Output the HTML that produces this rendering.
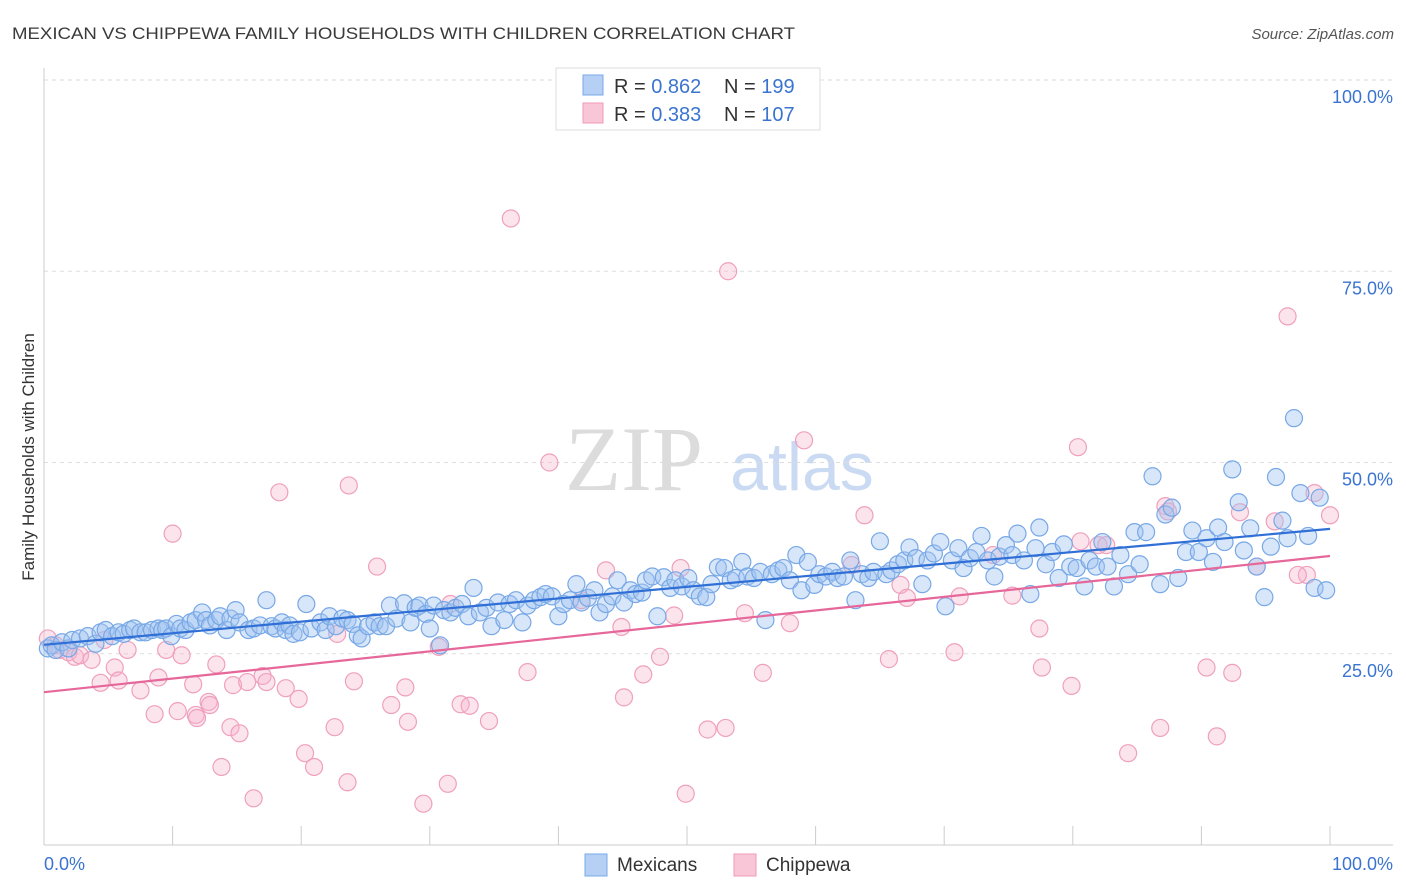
<!DOCTYPE html>
<html><head><meta charset="utf-8"><style>
body{margin:0;background:#fff;font-family:"Liberation Sans",sans-serif;}
svg{display:block}
</style></head><body>
<svg id="chart" width="1406" height="892" xmlns="http://www.w3.org/2000/svg">
<text x="12" y="39" font-size="17" textLength="783" lengthAdjust="spacingAndGlyphs" fill="#3a3a3a">MEXICAN VS CHIPPEWA FAMILY HOUSEHOLDS WITH CHILDREN CORRELATION CHART</text>
<text x="1394" y="39" font-size="15" fill="#555" font-style="italic" text-anchor="end">Source: ZipAtlas.com</text>
<g>
<text x="634" y="490" font-size="92" fill="#dcdcdc" font-family="Liberation Serif,serif" text-anchor="middle">ZIP</text>
<text x="802" y="490" font-size="68" fill="#c9daf2" text-anchor="middle">atlas</text>
</g>
<g id="grid"></g>
<g id="pts"></g>
<g id="lines"></g>
<text transform="translate(34,457) rotate(-90)" font-size="17" fill="#333" text-anchor="middle">Family Households with Children</text>
<g>
<rect x="556" y="68" width="264" height="62" fill="#fff" stroke="#ddd"/>
<rect x="583" y="75" width="20" height="20" fill="#b5cff5" stroke="#7aaae8"/>
<text x="614" y="93" font-size="20" fill="#333">R = <tspan fill="#3a74d0">0.862</tspan></text>
<text x="724" y="93" font-size="20" fill="#333">N = <tspan fill="#3a74d0">199</tspan></text>
<rect x="583" y="103" width="20" height="20" fill="#f8c6d6" stroke="#ef9ab8"/>
<text x="614" y="121" font-size="20" fill="#333">R = <tspan fill="#3a74d0">0.383</tspan></text>
<text x="724" y="121" font-size="20" fill="#333">N = <tspan fill="#3a74d0">107</tspan></text>
</g>
<g>
<rect x="585" y="854" width="22" height="22" fill="#b5cff5" stroke="#7aaae8"/>
<text x="617" y="871" font-size="19" fill="#333">Mexicans</text>
<rect x="734" y="854" width="22" height="22" fill="#f8c6d6" stroke="#ef9ab8"/>
<text x="766" y="871" font-size="19" fill="#333">Chippewa</text>
</g>
</svg>
<script>
const yTicks=[25,50,75,100];
const yTickLabels=["25.0%","50.0%","75.0%","100.0%"];
const xTicks=[0,10,20,30,40,50,60,70,80,90,100];
const blue=[[.3,25.7],[.6,26.1],[.9,25.5],[1.4,26.5],[1.9,25.7],[2.2,26.8],[2.8,27.0],[3.4,27.3],[4.0,26.3],[4.4,27.8],[4.8,28.1],[5.3,27.3],[5.8,27.8],[6.2,27.6],[6.7,28.1],[7.0,28.3],[7.5,27.8],[7.9,27.8],[8.4,28.1],[8.9,28.3],[9.2,28.1],[9.5,28.3],[9.9,27.3],[10.3,28.9],[10.6,28.3],[11.0,28.1],[11.4,29.1],[11.8,29.4],[12.3,30.4],[12.6,29.4],[12.9,28.7],[13.4,29.4],[13.7,29.9],[14.2,28.1],[14.5,29.6],[14.9,30.7],[15.2,29.1],[15.9,28.1],[16.3,28.3],[16.8,28.7],[17.3,32.0],[17.7,28.6],[18.0,28.3],[18.5,29.1],[18.8,28.1],[19.1,28.7],[19.4,27.6],[19.9,27.8],[20.4,31.5],[20.8,28.3],[21.5,29.1],[21.9,28.1],[22.2,29.9],[22.7,28.6],[23.2,29.6],[23.6,29.4],[24.0,28.9],[24.4,27.4],[24.7,27.0],[25.2,28.6],[25.7,29.1],[26.1,28.6],[26.6,28.6],[26.9,31.3],[27.4,29.6],[28.0,31.6],[28.5,29.1],[28.9,31.0],[29.2,31.3],[29.7,30.2],[30.0,28.3],[30.3,31.3],[30.8,26.1],[31.1,30.7],[31.6,30.4],[32.0,31.0],[32.5,31.5],[33.0,29.9],[33.4,33.6],[33.9,30.4],[34.4,31.0],[34.8,28.6],[35.3,31.7],[35.8,29.4],[36.2,31.5],[36.7,32.0],[37.2,29.1],[37.6,31.3],[38.1,32.0],[38.6,32.4],[39.0,32.8],[39.5,32.5],[40.0,29.9],[40.4,31.5],[40.9,32.0],[41.4,34.1],[41.8,31.7],[42.3,32.3],[42.8,33.3],[43.2,30.4],[43.7,31.5],[44.2,32.5],[44.6,34.6],[45.1,31.7],[45.6,33.3],[46.0,32.8],[46.5,33.0],[46.8,34.6],[47.3,35.1],[47.7,29.9],[48.2,35.0],[48.7,33.6],[49.1,34.6],[49.6,33.8],[50.1,34.9],[50.5,33.3],[51.0,32.5],[51.5,32.4],[51.9,34.1],[52.4,36.3],[52.9,36.2],[53.4,34.6],[53.8,34.9],[54.3,37.0],[54.7,35.1],[55.2,34.9],[55.7,35.7],[56.1,29.4],[56.6,35.4],[57.1,35.9],[57.5,36.2],[58.0,34.6],[58.5,37.9],[58.9,33.3],[59.4,37.0],[59.9,34.0],[60.3,35.4],[60.8,35.1],[61.3,35.7],[61.7,34.9],[62.2,35.1],[62.7,37.2],[63.1,32.0],[63.6,35.4],[64.1,34.9],[64.5,35.7],[65.0,39.7],[65.5,35.4],[65.9,35.9],[66.4,36.7],[66.9,37.2],[67.3,38.9],[67.8,37.5],[68.3,34.1],[68.7,37.2],[69.2,38.1],[69.7,39.6],[70.1,31.2],[70.6,37.2],[71.1,38.8],[71.5,36.2],[72.0,37.5],[72.5,38.3],[72.9,40.4],[73.4,37.2],[73.9,35.1],[74.3,37.7],[74.8,39.2],[75.3,37.9],[75.7,40.7],[76.2,37.2],[76.7,32.8],[77.1,38.8],[77.4,41.5],[77.9,36.7],[78.4,38.3],[78.9,34.9],[79.3,39.3],[79.8,36.4],[80.3,36.2],[80.9,33.8],[81.3,37.2],[81.8,36.4],[82.3,39.6],[82.7,36.4],[83.2,33.8],[83.7,37.9],[84.3,35.4],[84.8,40.9],[85.2,36.7],[85.7,40.9],[86.2,48.2],[86.8,34.1],[87.2,43.2],[87.7,44.1],[88.2,34.9],[88.8,38.3],[89.3,41.1],[89.8,38.3],[90.4,40.1],[90.9,37.0],[91.3,41.5],[91.8,39.6],[92.4,49.1],[92.9,44.8],[93.3,38.5],[93.8,41.4],[94.3,36.4],[94.9,32.4],[95.4,39.0],[95.8,48.1],[96.3,42.4],[96.7,40.1],[97.2,55.8],[97.7,46.0],[98.3,40.4],[98.8,33.6],[99.2,45.4],[99.7,33.3]];
const pink=[[36.3,81.9],[53.2,75.0],[96.7,69.1],[59.1,52.9],[80.4,52.0],[39.3,50.0],[18.3,46.1],[23.7,47.0],[10.0,40.7],[63.8,43.1],[87.2,44.3],[93.0,43.5],[95.7,42.3],[98.8,46.0],[100,43.1],[25.9,36.4],[43.7,35.9],[49.5,36.2],[62.8,36.6],[80.6,39.7],[82.0,39.2],[87.4,43.6],[73.8,37.9],[98.2,35.3],[94.3,36.4],[66.6,34.0],[67.1,32.3],[71.2,32.5],[54.5,30.3],[49.0,30.0],[41.8,32.0],[31.6,31.5],[22.8,27.6],[44.9,28.5],[30.7,25.9],[77.4,28.3],[58.0,29.0],[0.3,27.0],[0.9,26.1],[1.2,25.5],[1.9,25.2],[2.4,24.6],[2.8,24.8],[3.7,24.2],[4.7,26.8],[5.5,23.2],[4.4,21.2],[5.8,21.5],[6.5,25.5],[7.5,20.2],[8.9,21.9],[10.7,24.8],[9.5,25.5],[11.6,21.0],[13.4,23.6],[11.8,17.0],[12.8,18.7],[12.9,18.3],[14.7,20.9],[15.8,21.3],[17.0,22.1],[17.3,21.3],[18.8,20.5],[19.8,19.1],[24.1,21.4],[28.1,20.6],[27.0,18.3],[28.3,16.1],[32.4,18.4],[33.1,18.2],[37.6,22.6],[46.6,22.3],[47.9,24.6],[65.7,24.3],[70.8,25.2],[55.9,22.5],[77.6,23.2],[79.9,20.8],[90.4,23.2],[92.4,22.5],[8.6,17.1],[10.4,17.5],[11.9,16.6],[14.5,15.4],[15.2,14.6],[22.6,15.4],[34.6,16.2],[45.1,19.3],[51.6,15.1],[53.0,15.3],[84.3,12.0],[86.8,15.3],[91.2,14.2],[13.8,10.2],[20.3,12.0],[21.0,10.2],[23.6,8.2],[16.3,6.1],[29.5,5.4],[31.4,8.0],[49.9,6.7],[97.5,35.3],[75.3,32.6],[82.6,39.2]];
const NS="http://www.w3.org/2000/svg";
const X0=44,X1=1330,Y0=845,YT=80;
const sx=v=>X0+(X1-X0)*v/100;
const sy=v=>Y0-(Y0-YT)*v/100;
function mk(t,a,p){const e=document.createElementNS(NS,t);for(const k in a)e.setAttribute(k,a[k]);p.appendChild(e);return e;}
const grid=document.getElementById('grid');
yTicks.forEach((t,i)=>{
 const l=mk('line',{x1:44,x2:1393,y1:sy(t),y2:sy(t),stroke:'#ddd','stroke-dasharray':'4,4'},grid);
 
 
 const tx=mk('text',{x:1393,y:sy(t)+23,'font-size':18,fill:'#3a74d0','text-anchor':'end'},grid);
 tx.textContent=yTickLabels[i];
 
 
});
const ax=mk('line',{x1:44,x2:1393,y1:Y0,y2:Y0,stroke:'#ccc'},grid);


const ay=mk('line',{x1:44,x2:44,y1:68,y2:Y0,stroke:'#ccc'},grid);


xTicks.forEach(t=>{
 const l=mk('line',{x1:sx(t),x2:sx(t),y1:826,y2:Y0,stroke:'#ccc'},grid);
 
 
});
const xl0=mk('text',{x:44,y:870,'font-size':18,fill:'#3a74d0'},grid);xl0.textContent='0.0%';


const xl1=mk('text',{x:1393,y:870,'font-size':18,fill:'#3a74d0','text-anchor':'end'},grid);xl1.textContent='100.0%';


const pts=document.getElementById('pts');
function series(d,fill,stroke,name){d.forEach(p=>{
 const c=mk('circle',{cx:sx(p[0]),cy:sy(p[1]),r:8.5,fill:fill,stroke:stroke,'stroke-width':1.2},pts);
 
 
});}
series(pink,'rgba(246,178,202,0.35)','#efa0bc','chippewa-point');
series(blue,'rgba(160,196,240,0.42)','#78a8e6','mexican-point');
function fit(d){let n=d.length,mx=0,my=0;d.forEach(p=>{mx+=p[0];my+=p[1];});mx/=n;my/=n;let sxy=0,sxx=0;d.forEach(p=>{sxy+=(p[0]-mx)*(p[1]-my);sxx+=(p[0]-mx)**2;});const b=sxy/sxx;return [my-b*mx,b];}
const lines=document.getElementById('lines');
[[blue,'#2f6fd6','mexican-trend-line'],[pink,'#e6679a','chippewa-trend-line']].forEach(s=>{
 const f=fit(s[0]);
 const l=mk('line',{x1:sx(0),y1:sy(f[0]),x2:sx(100),y2:sy(f[0]+100*f[1]),stroke:s[1],'stroke-width':2.2},lines);
 
 
});
</script>
</body></html>
